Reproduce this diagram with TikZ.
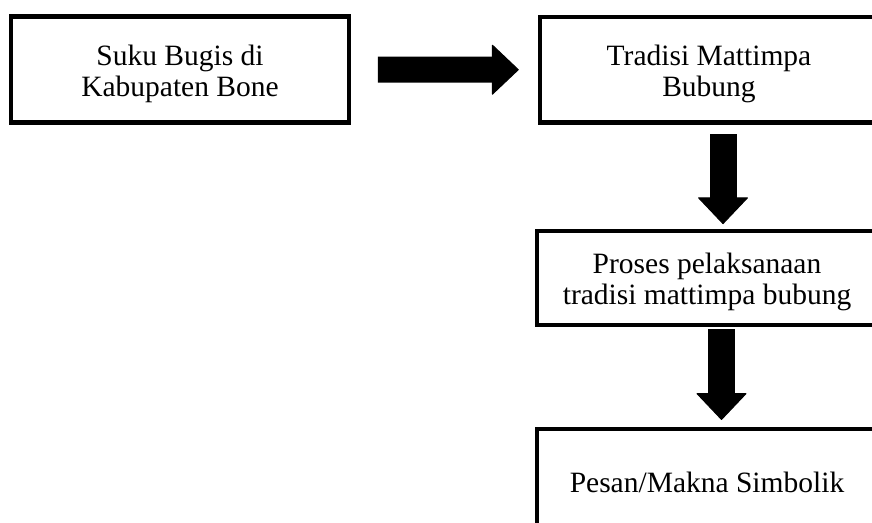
\documentclass[tikz,border=0pt]{standalone}
\usepackage{fontspec}
\setmainfont{Liberation Serif}
\usetikzlibrary{arrows.meta}

\tikzset{
  box/.style={draw, line width=4.5pt, minimum width=338pt, minimum height=106pt,
    align=center, font=\fontsize{29.5}{31}\selectfont},
  twoline/.style={text height=59.3pt, text depth=6.5pt},
  bigarrow/.style={line width=27pt, -{Triangle[width=51pt,length=27pt,line width=1pt,round]}}
}

\begin{document}
\begin{tikzpicture}[x=1pt, y=-1pt]
  \useasboundingbox (0,0) rectangle (872,522);

  \node[box,twoline] (bugis) at (180,69.6) {Suku Bugis di\\Kabupaten Bone};
  \node[box,twoline,minimum height=105.5pt] (tradisi) at (709,69.75) {Tradisi Mattimpa\\Bubung};
  \node[box,twoline,minimum width=340pt,minimum height=93.7pt] (proses) at (707,278) {Proses pelaksanaan\\tradisi mattimpa bubung};
  \node[box,minimum width=340pt] (pesan) at (707,482) {Pesan/Makna Simbolik};

  \draw[bigarrow, line width=26pt, shorten <=26.7pt, shorten >=19pt] (bugis) -- (tradisi);
  \draw[bigarrow, shorten <=9.3pt, shorten >=4.8pt] ([xshift=14pt]tradisi.south) -- ([xshift=14pt]tradisi.south |- proses.north);
  \draw[bigarrow, shorten <=2.3pt, shorten >=6.8pt] ([xshift=14.5pt]proses.south) -- ([xshift=14.5pt]proses.south |- pesan.north);
\end{tikzpicture}
\end{document}
